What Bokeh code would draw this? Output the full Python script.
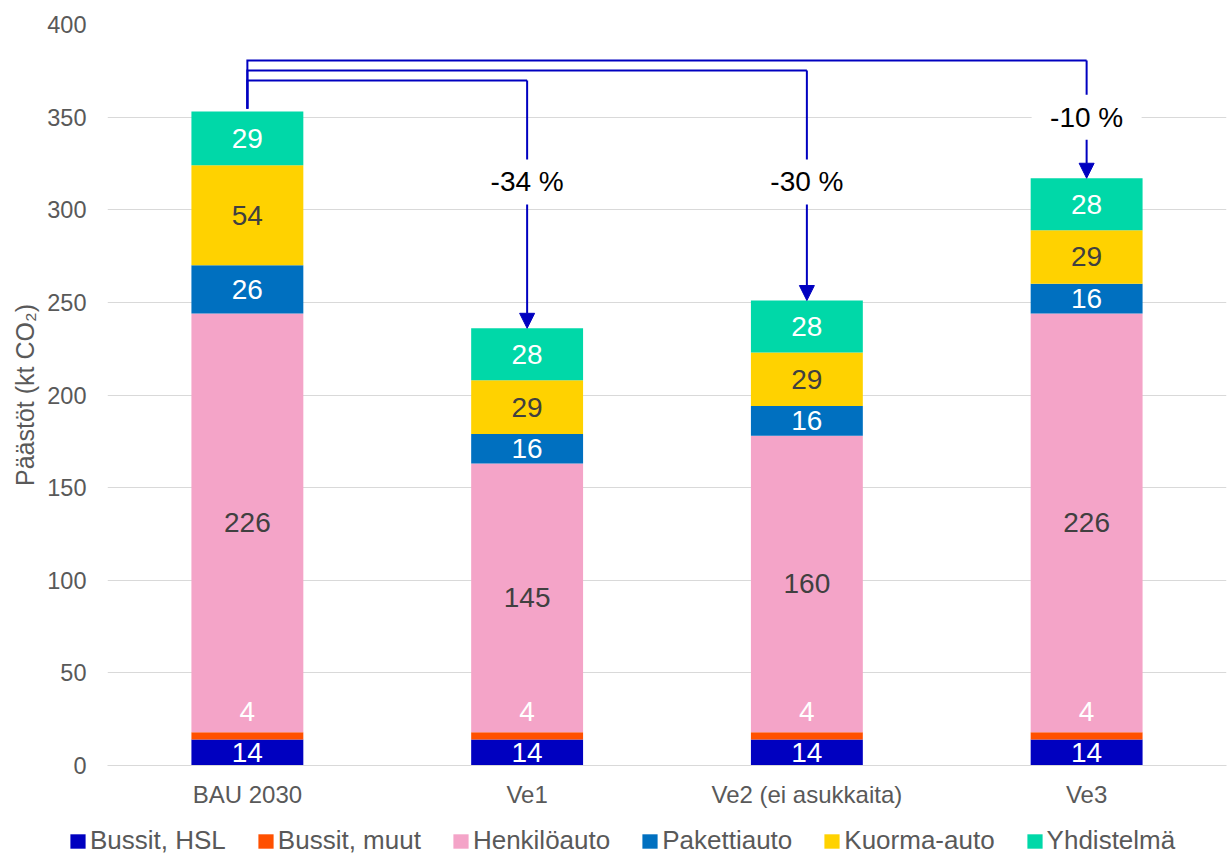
from bokeh.plotting import figure
from bokeh.models import (ColumnDataSource, FactorRange, Range1d, Legend, LegendItem,
                          FixedTicker, Arrow, NormalHead, LabelSet)
from bokeh.core.properties import value
from bokeh.embed import file_html
from bokeh.resources import INLINE

# ---------------- data ----------------
categories = ["BAU 2030", "Ve1", "Ve2 (ei asukkaita)", "Ve3"]
series_names = ["Bussit, HSL", "Bussit, muut", "Henkilöauto", "Pakettiauto", "Kuorma-auto", "Yhdistelmä"]
bussit_hsl = [14, 14, 14, 14]
bussit_muut = [4, 4, 4, 4]
henkiloauto = [226, 145, 160, 226]
pakettiauto = [26, 16, 16, 16]
kuorma_auto = [54, 29, 29, 29]
yhdistelma = [29, 28, 28, 28]
change_labels = ["-34 %", "-30 %", "-10 %"]
y_ticks = [0, 50, 100, 150, 200, 250, 300, 350, 400]

# ---------------- styles ----------------
colors = ["#0000C0", "#FF5000", "#F4A4C8", "#0070C0", "#FFD200", "#00D8A8"]
label_colors = ["white", "white", "#404040", "white", "#404040", "white"]
FONT = "Liberation Sans"
GRAY = "#595959"
ARROW = "#0000C0"

series = [bussit_hsl, bussit_muut, henkiloauto, pakettiauto, kuorma_auto, yhdistelma]
keys = ["s%d" % i for i in range(len(series))]
data = {"cat": categories}
for k, s in zip(keys, series):
    data[k] = s
source = ColumnDataSource(data)

p = figure(width=1229, height=817, x_range=FactorRange(*categories, range_padding=0),
           y_range=Range1d(0, 400), output_backend="svg", toolbar_location=None,
           min_border_left=107, min_border_right=3, min_border_top=24, min_border_bottom=52)
p.outline_line_color = None
p.background_fill_color = "white"
p.border_fill_color = "white"

renderers = p.vbar_stack(keys, x="cat", width=0.4, source=source, color=colors, line_color=None)

# axes
p.xgrid.grid_line_color = None
p.ygrid.grid_line_color = "#D9D9D9"
p.ygrid.grid_line_width = 1
p.yaxis.ticker = FixedTicker(ticks=y_ticks)
p.yaxis.axis_line_color = None
p.yaxis.major_tick_line_color = None
p.yaxis.major_tick_out = 0
p.yaxis.major_tick_in = 0
p.yaxis.minor_tick_line_color = None
p.yaxis.major_label_standoff = 21
p.yaxis.major_label_text_font = FONT
p.yaxis.major_label_text_font_size = "23.5px"
p.yaxis.major_label_text_color = GRAY
p.yaxis.axis_label = "Päästöt (kt CO₂)"
p.yaxis.axis_label_standoff = 5
p.yaxis.axis_label_text_font = FONT
p.yaxis.axis_label_text_font_size = "25px"
p.yaxis.axis_label_text_font_style = "normal"
p.yaxis.axis_label_text_color = GRAY

p.xaxis.axis_line_color = "#D9D9D9"
p.xaxis.major_tick_line_color = None
p.xaxis.major_tick_out = 0
p.xaxis.major_tick_in = 0
p.xaxis.minor_tick_line_color = None
p.xaxis.major_label_standoff = 15
p.xaxis.major_label_text_font = FONT
p.xaxis.major_label_text_font_size = "24px"
p.xaxis.major_label_text_color = GRAY

# data labels
lx, ly, lt, lc, lo = [], [], [], [], []
for j, cat in enumerate(categories):
    bottom = 0
    for i, s in enumerate(series):
        v = s[j]
        lx.append(cat)
        ly.append(bottom + v / 2)
        lt.append(str(v))
        lc.append(label_colors[i])
        lo.append(24 if i == 1 else 0)
        bottom += v
lab_src = ColumnDataSource(dict(x=lx, y=ly, text=lt, color=lc, off=lo))
p.add_layout(LabelSet(x="x", y="y", text="text", source=lab_src, text_color="color",
                      y_offset="off", text_align="center", text_baseline="middle",
                      text_font=value(FONT), text_font_size="28px"))

# connectors / arrows
totals = [sum(s[j] for s in series) for j in range(len(categories))]
levels = [369.8, 375.2, 380.6]
xs_num = [j + 0.5 for j in range(len(categories))]
mx, my = [], []
for i in range(1, len(categories)):
    lvl = levels[i - 1]
    mx.append([xs_num[0], xs_num[0], xs_num[i]])
    my.append([totals[0] + 1.5, lvl, lvl])
p.multi_line(mx, my, line_color=ARROW, line_width=2, line_join="miter")
for i in range(1, len(categories)):
    lvl = levels[i - 1]
    p.add_layout(Arrow(x_start=xs_num[i], y_start=lvl, x_end=xs_num[i], y_end=totals[i],
                       line_color=ARROW, line_width=2,
                       end=NormalHead(size=15, fill_color=ARROW, line_color=ARROW, line_width=1)))

label_y = [315, 315, 350]
px = xs_num[1:]
p.rect(x=px, y=label_y, width=110, height=45, width_units="screen", height_units="screen",
       fill_color="white", line_color=None, level="overlay")
p.text(x=px, y=label_y, text=change_labels, text_align="center", text_baseline="middle",
       text_font=value(FONT), text_font_size="28px", text_color="black", level="overlay")

# legend strip (separate root, so its frame spans the full width)
pl = figure(width=1229, height=40, x_range=Range1d(0, 1), y_range=Range1d(0, 1),
            output_backend="svg", toolbar_location=None, min_border=0,
            x_axis_location=None, y_axis_location=None)
pl.outline_line_color = None
pl.grid.visible = False
leg_renderers = pl.vbar_stack(keys, x="cat", width=0.4, source=source, color=colors, line_color=None)
for r in leg_renderers:
    r.visible = False
items = [LegendItem(label=n, renderers=[r]) for n, r in zip(series_names, leg_renderers)]
legend = Legend(items=items, location=(68, 1), orientation="horizontal",
                glyph_width=19, glyph_height=18, label_standoff=3, spacing=30,
                padding=0, margin=0, border_line_color=None, background_fill_alpha=0,
                label_text_font=FONT, label_text_font_size="26px", label_text_color=GRAY,
                label_height=20)
pl.add_layout(legend)

open("out.html", "w").write(file_html([p, pl], INLINE))
